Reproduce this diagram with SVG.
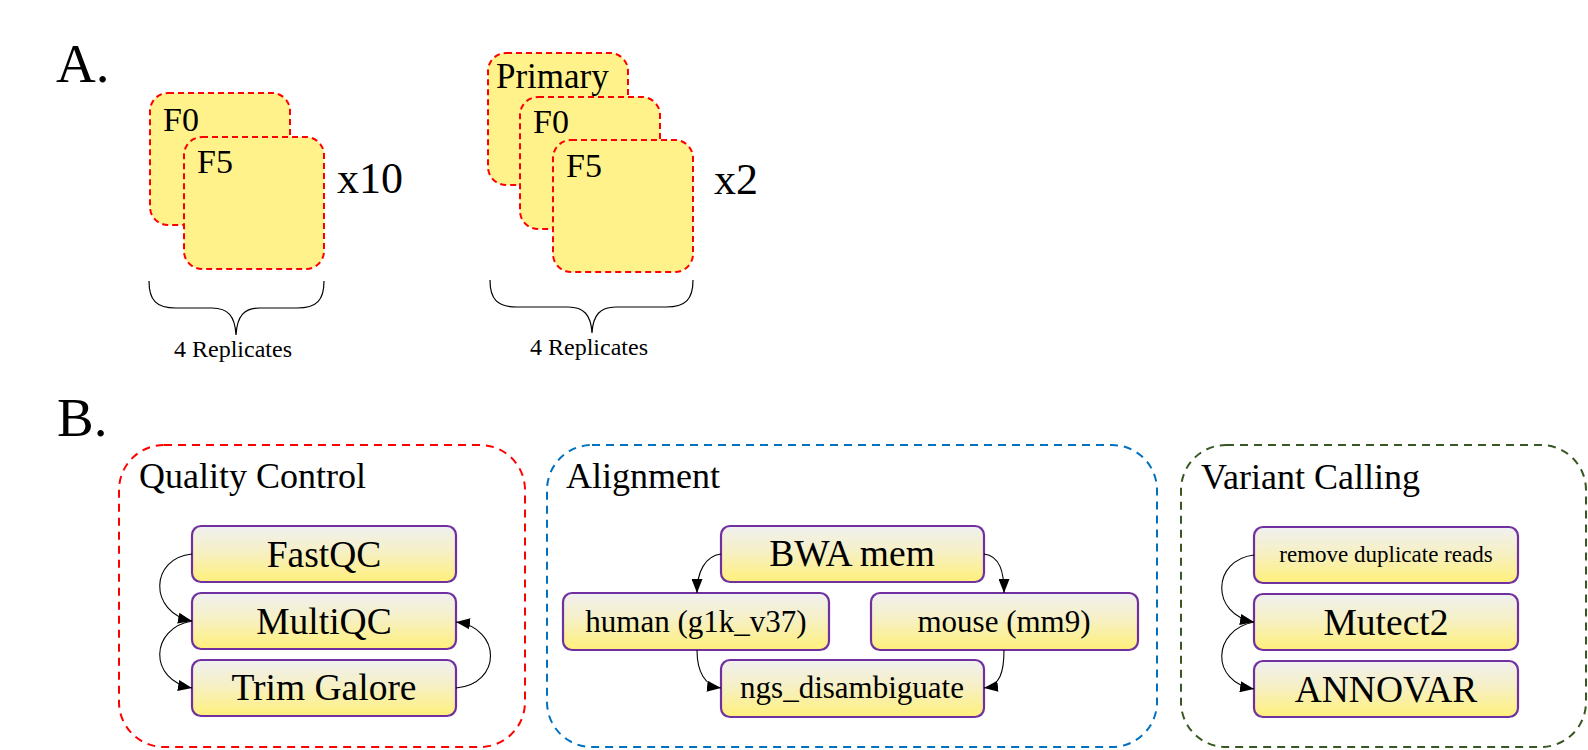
<svg xmlns="http://www.w3.org/2000/svg" width="1588" height="750" viewBox="0 0 1588 750">
<style>
text{font-family:"Liberation Serif","Times New Roman",serif;fill:#000}
.big{font-size:55px}
.samp{fill:#fff28a;stroke:#ff0000;stroke-width:2;stroke-dasharray:6 4}
.sl{font-size:34px}
.mult{font-size:44px}
.rep{font-size:24px;text-anchor:middle}
.brace{fill:none;stroke:#000;stroke-width:1.2}
.cont{fill:none;stroke-width:2;stroke-dasharray:8 6}
.ttl{font-size:36px}
.node rect{fill:url(#ng);stroke:#7030a0;stroke-width:2.2}
.node text{font-size:37.5px;text-anchor:middle}
.node text.s{font-size:31px}
.node text.xs{font-size:23px}
.conn path{fill:none;stroke:#000;stroke-width:1.1;marker-end:url(#ah)}
</style>
<defs>
<linearGradient id="ng" x1="0" y1="0" x2="0" y2="1">
<stop offset="0" stop-color="#f0f0f0"/>
<stop offset="0.45" stop-color="#f6f0c6"/>
<stop offset="1" stop-color="#fff07a"/>
</linearGradient>
<marker id="ah" viewBox="0 0 14 11" refX="14" refY="5.5" markerWidth="14" markerHeight="11" markerUnits="userSpaceOnUse" orient="auto">
<path d="M0,0 L14,5.5 L0,11 Z" fill="#000"/>
</marker>
</defs>

<g id="label-A"><text class="big" x="56" y="82">A.</text></g>

<g id="samples-left">
<rect class="samp" x="150" y="93" width="140" height="132" rx="18"/>
<text class="sl" x="163" y="131">F0</text>
<rect class="samp" x="184" y="137" width="140" height="132" rx="18"/>
<text class="sl" x="197" y="173">F5</text>
<text class="mult" x="337" y="193">x10</text>
<path class="brace" d="M149,281 C149,300 156,308 176,308 L212,308 C228,308 235,316 236,335 C237,316 244,308 260,308 L297,308 C317,308 324,300 324,281"/>
<text class="rep" x="233" y="357">4 Replicates</text>
</g>

<g id="samples-right">
<rect class="samp" x="488" y="53" width="140" height="132" rx="18"/>
<text class="sl" x="496" y="88" style="font-size:35px">Primary</text>
<rect class="samp" x="520" y="97" width="140" height="132" rx="18"/>
<text class="sl" x="533" y="133">F0</text>
<rect class="samp" x="553" y="140" width="140" height="132" rx="18"/>
<text class="sl" x="566" y="177">F5</text>
<text class="mult" x="714" y="194">x2</text>
<path class="brace" d="M490,280 C490,299 497,307 517,307 L568,307 C584,307 591,315 592,333 C593,315 600,307 616,307 L666,307 C686,307 693,299 693,280"/>
<text class="rep" x="589" y="355">4 Replicates</text>
</g>

<g id="label-B"><text class="big" x="57" y="436">B.</text></g>

<g id="qc">
<rect class="cont" x="119" y="445" width="406" height="302" rx="45" stroke="#ff0000"/>
<text class="ttl" x="139" y="488">Quality Control</text>
</g>
<g id="alignment">
<rect class="cont" x="547" y="445" width="610" height="302" rx="45" stroke="#0070c0"/>
<text class="ttl" x="566" y="488">Alignment</text>
</g>
<g id="variant-calling">
<rect class="cont" x="1181" y="445" width="405" height="302" rx="45" stroke="#385723"/>
<text class="ttl" x="1201" y="489">Variant Calling</text>
</g>

<g id="fastqc" class="node"><rect x="192" y="526" width="264" height="56" rx="9"/><text x="324" y="567">FastQC</text></g>
<g id="multiqc" class="node"><rect x="192" y="593" width="264" height="56" rx="9"/><text x="324" y="634">MultiQC</text></g>
<g id="trimgalore" class="node"><rect x="192" y="660" width="264" height="56" rx="9"/><text x="324" y="700">Trim Galore</text></g>

<g id="bwamem" class="node"><rect x="721" y="526" width="263" height="56" rx="9"/><text x="852" y="566">BWA mem</text></g>
<g id="human" class="node"><rect x="563" y="593" width="266" height="57" rx="9"/><text class="s" x="696" y="632">human (g1k_v37)</text></g>
<g id="mouse" class="node"><rect x="871" y="593" width="267" height="57" rx="9"/><text class="s" x="1004" y="632">mouse (mm9)</text></g>
<g id="ngs" class="node"><rect x="721" y="660" width="263" height="57" rx="9"/><text class="s" x="852" y="698">ngs_disambiguate</text></g>

<g id="dedup" class="node"><rect x="1254" y="527" width="264" height="56" rx="9"/><text class="xs" x="1386" y="562">remove duplicate reads</text></g>
<g id="mutect2" class="node"><rect x="1254" y="594" width="264" height="56" rx="9"/><text x="1386" y="635">Mutect2</text></g>
<g id="annovar" class="node"><rect x="1254" y="661" width="264" height="56" rx="9"/><text x="1386" y="702">ANNOVAR</text></g>

<g id="connectors" class="conn">
<path d="M192,554 C150,558 148,612 192,621"/>
<path d="M192,621 C150,628 148,680 192,688"/>
<path d="M456,688 C502,684 502,628 456,622"/>
<path d="M721,554 C705,556 697,572 697,593"/>
<path d="M984,554 C1000,556 1004,572 1004,593"/>
<path d="M697,650 C697,672 705,686 721,688"/>
<path d="M1004,650 C1004,672 1000,686 984,688"/>
<path d="M1254,555 C1212,560 1210,614 1254,622"/>
<path d="M1254,622 C1212,630 1210,682 1254,689"/>
</g>
</svg>
